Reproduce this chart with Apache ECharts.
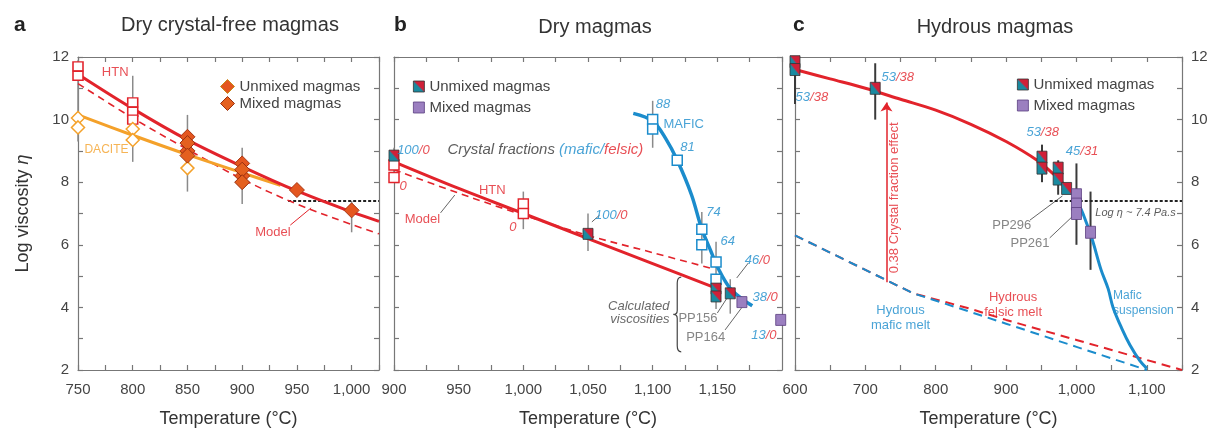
<!DOCTYPE html>
<html><head><meta charset="utf-8">
<script src="https://cdn.jsdelivr.net/npm/echarts@6/dist/echarts.min.js"></script>
<style>html,body{margin:0;padding:0;background:#fff}#c{width:1216px;height:434px}</style>
</head><body><div id="c"></div>
<script>
// ================= DATA =================
// Panel a: Dry crystal-free magmas
const aHtnT = [750, 800, 850, 900, 950, 1000, 1025];
const aHtnV = [11.45, 10.35, 9.35, 8.5, 7.72, 7.05, 6.75];
const aModelT = [750, 800, 850, 900, 950, 1000, 1025];
const aModelV = [11.15, 10.05, 9.05, 8.1, 7.3, 6.65, 6.35];
const aDaciteT = [750, 800, 850, 900, 935];
const aDaciteV = [10.15, 9.5, 8.88, 8.3, 7.9];
const aHtnPts = [[750, 11.7], [750, 11.4], [800, 10.55], [800, 10.25], [800, 10.0]];
const aDacitePts = [[750, 10.05], [750, 9.75], [800, 9.7], [800, 9.35], [850, 8.45]];
const aUnmixed = [[850, 9.45], [850, 9.0], [900, 8.6], [900, 8.2], [950, 7.75], [1000, 7.1]];
const aMixed = [[850, 9.25], [850, 8.85], [900, 8.4], [900, 8.0]];
const aErr = [[750, 9.3, 11.9], [800, 8.65, 11.4], [850, 7.7, 10.15], [900, 7.3, 9.1], [1000, 6.4, 7.4]];
const aThreshT = [942, 1025];
const aThreshV = [7.4, 7.4];

// Panel b: Dry magmas
const bHtnT = [900, 950, 1000, 1050, 1100, 1150];
const bHtnV = [8.65, 7.8, 7.0, 6.2, 5.4, 4.6];
const bModelT = [900, 950, 1000, 1050, 1100, 1145];
const bModelV = [8.4, 7.65, 6.95, 6.3, 5.75, 5.25];
const bMaficT = [1085, 1100, 1110, 1119, 1130, 1138, 1145, 1150, 1160, 1170, 1177];
const bMaficV = [10.2, 9.95, 9.4, 8.7, 7.6, 6.5, 5.8, 5.3, 4.6, 4.25, 4.05];
const bHtnPts = [[900, 8.55], [900, 8.15], [1000, 7.3], [1000, 7.0]];
const bMaficPts = [[1100, 10.0], [1100, 9.7], [1119, 8.7], [1138, 6.5], [1138, 6.0], [1149, 5.45], [1149, 4.9]];
const bUnmixed = [[900, 8.85], [1050, 6.35], [1149, 4.6], [1149, 4.35], [1160, 4.45]];
const bMixed = [[1169, 4.17], [1199, 3.6]];
const bErr = [[900, 8.0, 9.1], [1000, 6.5, 7.7], [1050, 5.8, 7.0], [1100, 9.1, 10.6], [1138, 5.4, 7.05], [1149, 3.95, 6.1], [1160, 3.8, 4.9]];

// Panel c: Hydrous magmas
const cHtnT = [600, 650, 700, 750, 800, 850, 900, 944, 970, 990];
const cHtnV = [11.6, 11.3, 11.0, 10.65, 10.3, 9.85, 9.3, 8.7, 8.2, 7.75];
const cSuspT = [990, 1000, 1010, 1022, 1035, 1045, 1052, 1065, 1076, 1090, 1100];
const cSuspV = [7.75, 7.45, 6.95, 6.2, 5.2, 4.6, 4.0, 3.3, 2.8, 2.3, 2.05];
const cFelsicT = [600, 650, 700, 768, 850, 900, 950, 1000, 1050, 1100, 1150];
const cFelsicV = [6.3, 5.75, 5.2, 4.45, 3.95, 3.6, 3.28, 2.96, 2.64, 2.32, 2.0];
const cMaficT = [600, 650, 700, 768, 850, 900, 950, 1000, 1050, 1100];
const cMaficV = [6.3, 5.75, 5.2, 4.45, 3.85, 3.48, 3.11, 2.74, 2.37, 2.0];
const cUnmixed = [[600, 11.85], [600, 11.6], [714, 11.0], [951, 8.8], [951, 8.45], [974, 8.45], [974, 8.1], [986, 7.8]];
const cMixed = [[1000, 7.6], [1000, 7.3], [1000, 7.0], [1020, 6.4]];
const cErr = [[600, 10.5, 12.0], [714, 10.0, 11.8], [951, 8.0, 9.2], [974, 7.6, 8.7], [1000, 6.0, 8.6], [1020, 5.2, 7.7]];
const cThreshT = [962, 1150];
const cThreshV = [7.4, 7.4];
const cArrow = [730, 4.8, 730, 10.55];

// Axis ranges / tick steps
const aRange = [750, 1025], bRange = [900, 1200], cRange = [600, 1150];
const yRange = [2, 12];

// Annotations [T, value, text, style]
const aNotes = [
  [784, 11.5, 'HTN', 'red'],
  [776, 9.03, 'DACITE', 'orange'],
  [928, 6.38, 'Model', 'red']
];
const bNotes = [
  [915, 9.03, '{b|100}{r|/0}', 'rich'],
  [1017, 9.03, '{G|Crystal fractions }{B|(mafic/}{R|felsic)}', 'rich'],
  [907, 7.88, '{r|0}', 'rich'],
  [976, 7.75, 'HTN', 'red'],
  [922, 6.8, 'Model', 'red'],
  [992, 6.55, '{r|0}', 'rich'],
  [1068, 6.95, '{b|100}{r|/0}', 'rich'],
  [1108, 10.5, '{b|88}', 'rich'],
  [1124, 9.83, 'MAFIC', 'blue'],
  [1127, 9.1, '{b|81}', 'rich'],
  [1147, 7.05, '{b|74}', 'rich'],
  [1158, 6.1, '{b|64}', 'rich'],
  [1181, 5.5, '{b|46}{r|/0}', 'rich'],
  [1187, 4.33, '{b|38}{r|/0}', 'rich'],
  [1186, 3.12, '{b|13}{r|/0}', 'rich'],
  [1113, 3.82, 'Calculated\nviscosities', 'gital'],
  [1135, 3.66, 'PP156', 'gray'],
  [1141, 3.05, 'PP164', 'gray']
];
const cNotes = [
  [624, 10.72, '{b|53}{r|/38}', 'rich'],
  [746, 11.36, '{b|53}{r|/38}', 'rich'],
  [952, 9.6, '{b|53}{r|/38}', 'rich'],
  [1008, 8.97, '{b|45}{r|/31}', 'rich'],
  [908, 6.63, 'PP296', 'gray'],
  [934, 6.06, 'PP261', 'gray'],
  [1084, 7.03, 'Log η ~ 7.4 Pa.s', 'small'],
  [742, 7.5, '0.38 Crystal fraction effect', 'redRot'],
  [750, 3.66, 'Hydrous\nmafic melt', 'blue'],
  [910, 4.08, 'Hydrous\nfelsic melt', 'red'],
  [1052, 4.14, 'Mafic\nsuspension', 'blueLeft']
];
const aLeaders = [[944, 6.63, 963, 7.18]];
const bLeaders = [[936, 7.02, 947, 7.59], [1059, 6.95, 1053, 6.73], [1174, 5.42, 1165, 4.94], [1150, 3.82, 1160, 4.46], [1156, 3.28, 1169, 4.0]];
const cLeaders = [[934, 6.79, 980, 7.56], [962, 6.22, 995, 6.92]];
const bBrace = [[1119, 4.97, 2.58]];

// ================= STYLE =================
const RED = '#e2232b', BLUE = '#1b8ccc', ORANGE = '#f4a12a', TXT = '#444';
const FONT = '"Liberation Sans", Arial, sans-serif';
const unmixedGrad = () => new echarts.graphic.LinearGradient(0, 1, 1, 0, [
  {offset: 0, color: '#1a8aa0'}, {offset: 0.45, color: '#1a8aa0'},
  {offset: 0.55, color: '#d02038'}, {offset: 1, color: '#d02038'}]);
const RICH = {
  b: {color: BLUE, fontStyle: 'italic', fontSize: 13, fontFamily: FONT},
  r: {color: RED, fontStyle: 'italic', fontSize: 13, fontFamily: FONT},
  G: {color: '#333', fontStyle: 'italic', fontSize: 15, fontFamily: FONT},
  B: {color: BLUE, fontStyle: 'italic', fontSize: 15, fontFamily: FONT},
  R: {color: RED, fontStyle: 'italic', fontSize: 15, fontFamily: FONT}
};
const STY = {
  red: {color: RED, fontSize: 13, lineHeight: 15},
  blue: {color: BLUE, fontSize: 13, lineHeight: 15},
  orange: {color: ORANGE, fontSize: 12},
  gray: {color: '#666', fontSize: 13},
  gital: {color: '#444', fontSize: 13, fontStyle: 'italic', align: 'right', lineHeight: 13},
  rich: {fontSize: 13, fontStyle: 'italic'},
  small: {color: '#333', fontSize: 11, fontStyle: 'italic'},
  redRot: {color: RED, fontSize: 13, rotate: 90},
  blueLeft: {color: BLUE, fontSize: 12, align: 'left', lineHeight: 15}
};

// ================= HELPERS =================
const pairs = (T, V) => T.map((t, i) => [t, V[i]]);
const ax = g => ({xAxisIndex: g * 2, yAxisIndex: g * 2});
function lineS(g, T, V, color, width, type, smooth) {
  return Object.assign({type: 'line', data: pairs(T, V), smooth: smooth ? 0.35 : false, symbol: 'none',
    lineStyle: {color, width, type}, silent: true, z: 3, animation: false}, ax(g));
}
function ptsS(g, name, pts, symbol, size, fill, border, bw) {
  return Object.assign({type: 'scatter', name, data: pts, symbol, symbolSize: size,
    itemStyle: {color: fill, borderColor: border, borderWidth: bw, opacity: 1}, z: 5, silent: true, animation: false}, ax(g));
}
function segS(g, segs, color, width) {
  return Object.assign({type: 'custom', data: segs, silent: true, z: 2, animation: false,
    encode: {x: [0, 2], y: [1, 3]},
    renderItem: (p, api) => {
      const a = api.coord([api.value(0), api.value(1)]), b = api.coord([api.value(2), api.value(3)]);
      return {type: 'line', shape: {x1: a[0], y1: a[1], x2: b[0], y2: b[1]}, style: {stroke: color, lineWidth: width}};
    }}, ax(g));
}
const errSegs = arr => arr.map(e => [e[0], e[1], e[0], e[2]]);
function notesS(g, notes) {
  return Object.assign({type: 'scatter', symbolSize: 0, silent: true, z: 8, animation: false,
    data: notes.map(n => ({value: [n[0], n[1]],
      label: Object.assign({show: true, position: 'inside', formatter: n[2], fontFamily: FONT, rich: RICH}, STY[n[3]])}))}, ax(g));
}
function braceS(g, arr) {
  return Object.assign({type: 'custom', data: arr, silent: true, z: 6, animation: false,
    encode: {x: 0, y: [1, 2]},
    renderItem: (p, api) => {
      const a = api.coord([api.value(0), api.value(1)]), b = api.coord([api.value(0), api.value(2)]);
      const x = a[0], y1 = a[1], y2 = b[1], ym = (y1 + y2) / 2;
      const d = `M${x + 4},${y1} Q${x},${y1} ${x},${y1 + 6} L${x},${ym - 4} Q${x},${ym} ${x - 4},${ym} Q${x},${ym} ${x},${ym + 4} L${x},${y2 - 6} Q${x},${y2} ${x + 4},${y2}`;
      return {type: 'path', shape: {pathData: d}, style: {stroke: '#444', lineWidth: 1.2, fill: 'none'}};
    }}, ax(g));
}
const fmt = v => v >= 1000 ? String(v).replace(/(\d)(\d{3})$/, '$1,$2') : String(v);
function xAx(g, range, step, labelStep, pos, labels) {
  return {type: 'value', gridIndex: g, min: range[0], max: range[1], interval: step, position: pos,
    axisLine: {onZero: false, lineStyle: {color: '#777', width: 1.2}},
    axisTick: {inside: true, length: 5, lineStyle: {color: '#777', width: 1.2}},
    splitLine: {show: false},
    axisLabel: {show: labels, margin: 12, fontSize: 15, color: TXT, fontFamily: FONT, showMaxLabel: g !== 1,
      formatter: v => (v % labelStep === 0 ? fmt(v) : '')},
    name: labels ? 'Temperature (°C)' : '', nameLocation: 'middle', nameGap: 40,
    nameTextStyle: {fontSize: 18, color: '#333', fontFamily: FONT}};
}
function yAx(g, pos, labels, name) {
  return {type: 'value', gridIndex: g, min: yRange[0], max: yRange[1], interval: 1, position: pos,
    axisLine: {onZero: false, lineStyle: {color: '#777', width: 1.2}},
    axisTick: {inside: true, length: 5, lineStyle: {color: '#777', width: 1.2}},
    splitLine: {show: false},
    axisLabel: {show: labels, margin: 9, fontSize: 15, color: TXT, fontFamily: FONT,
      formatter: v => (v % 2 === 0 ? String(v) : '')},
    name: name ? '{a|Log viscosity }{b|η}' : '', nameLocation: 'middle', nameGap: 46,
    nameTextStyle: {rich: {a: {fontSize: 18, color: '#333', fontFamily: FONT}, b: {fontSize: 18, color: '#333', fontStyle: 'italic', fontFamily: FONT}}}};
}
function legendFor(left, top, size, gap, icon, uStyle, mStyle) {
  return {left, top, orient: 'vertical', itemWidth: size, itemHeight: size, itemGap: gap, selectedMode: false,
    textStyle: {fontSize: 15, color: TXT, fontFamily: FONT},
    data: [{name: 'Unmixed magmas', icon, itemStyle: uStyle}, {name: 'Mixed magmas', icon, itemStyle: mStyle}]};
}

// ================= CHART =================
const chart = echarts.init(document.getElementById('c'), null, {renderer: 'canvas'});
const titleStyle = {fontSize: 20, fontWeight: 'normal', color: '#333', fontFamily: FONT};
const letterStyle = {fontSize: 21, fontWeight: 'bold', color: '#222', fontFamily: FONT};

const option = {
  backgroundColor: '#fff',
  animation: false,
  title: [
    {text: 'a', left: 9, top: 10, textStyle: letterStyle},
    {text: 'Dry crystal-free magmas', left: 225, top: 10, textAlign: 'center', textStyle: titleStyle},
    {text: 'b', left: 389, top: 10, textStyle: letterStyle},
    {text: 'Dry magmas', left: 590, top: 12, textAlign: 'center', textStyle: titleStyle},
    {text: 'c', left: 788, top: 10, textStyle: letterStyle},
    {text: 'Hydrous magmas', left: 990, top: 12, textAlign: 'center', textStyle: titleStyle}
  ],
  legend: [
    legendFor(215, 74, 14, 2, 'diamond', {color: '#e4561f', borderColor: '#c88a18', borderWidth: 1}, {color: '#e4601f', borderColor: '#9a3010', borderWidth: 1}),
    legendFor(408, 74, 11, 6, 'rect', {color: unmixedGrad(), borderColor: '#333', borderWidth: 0.8}, {color: '#9b7fc0', borderColor: '#5b3f80', borderWidth: 0.8}),
    legendFor(1012, 72, 11, 6, 'rect', {color: unmixedGrad(), borderColor: '#333', borderWidth: 0.8}, {color: '#9b7fc0', borderColor: '#5b3f80', borderWidth: 0.8})
  ],
  grid: [
    {left: 78, top: 57, width: 301, height: 313},
    {left: 394, top: 57, width: 388, height: 313},
    {left: 795, top: 57, width: 387, height: 313}
  ],
  xAxis: [
    xAx(0, aRange, 25, 50, 'bottom', true), xAx(0, aRange, 25, 50, 'top', false),
    xAx(1, bRange, 25, 50, 'bottom', true), xAx(1, bRange, 25, 50, 'top', false),
    xAx(2, cRange, 50, 100, 'bottom', true), xAx(2, cRange, 50, 100, 'top', false)
  ],
  yAxis: [
    yAx(0, 'left', true, true), yAx(0, 'right', false, false),
    yAx(1, 'left', false, false), yAx(1, 'right', false, false),
    yAx(2, 'left', false, false), yAx(2, 'right', true, false)
  ],
  series: [
    // ---- panel a ----
    segS(0, errSegs(aErr), '#8a8a8a', 1.5),
    segS(0, aLeaders, RED, 1),
    lineS(0, aThreshT, aThreshV, '#222', 1.8, [3, 2]),
    lineS(0, aModelT, aModelV, RED, 1.6, [7, 5], true),
    lineS(0, aDaciteT, aDaciteV, ORANGE, 3, 'solid', true),
    lineS(0, aHtnT, aHtnV, RED, 3, 'solid', true),
    ptsS(0, 'HTN', aHtnPts, 'rect', [10, 9], '#fff', RED, 1.5),
    ptsS(0, 'Dacite', aDacitePts, 'diamond', 13, '#fff', ORANGE, 1.5),
    ptsS(0, 'Unmixed magmas', aUnmixed, 'diamond', 15, '#e4561f', '#a83612', 1),
    ptsS(0, 'Mixed magmas', aMixed, 'diamond', 15, '#e4601f', '#9a3010', 1),
    notesS(0, aNotes),
    // ---- panel b ----
    segS(1, errSegs(bErr), '#8a8a8a', 1.5),
    segS(1, bLeaders, '#666', 1),
    braceS(1, bBrace),
    lineS(1, bModelT, bModelV, RED, 1.6, [7, 5], true),
    lineS(1, bHtnT, bHtnV, RED, 3, 'solid', true),
    lineS(1, bMaficT, bMaficV, BLUE, 3.5, 'solid', true),
    ptsS(1, 'HTN b', bHtnPts, 'rect', [10, 10], '#fff', RED, 1.5),
    ptsS(1, 'Mafic b', bMaficPts, 'rect', [10, 10], '#fff', BLUE, 1.5),
    ptsS(1, 'Unmixed magmas', bUnmixed, 'rect', [10, 11], unmixedGrad(), '#333', 0.8),
    ptsS(1, 'Mixed magmas', bMixed, 'rect', [10, 11], '#9b7fc0', '#5b3f80', 0.8),
    notesS(1, bNotes),
    // ---- panel c ----
    segS(2, errSegs(cErr), '#3a3a3a', 2),
    segS(2, cLeaders, '#666', 1),
    lineS(2, cThreshT, cThreshV, '#222', 1.8, [3, 2]),
    lineS(2, cFelsicT, cFelsicV, RED, 2, [9, 6]),
    lineS(2, cMaficT, cMaficV, BLUE, 2, [9, 6]),
    Object.assign(lineS(2, cHtnT, cHtnV, RED, 3, 'solid', true), {
      markLine: {silent: true, symbol: ['none', 'arrow'], symbolSize: 9, animation: false,
        lineStyle: {color: RED, width: 1.5, type: 'solid'}, label: {show: false},
        data: [[{coord: [cArrow[0], cArrow[1]]}, {coord: [cArrow[2], cArrow[3]]}]]}
    }),
    lineS(2, cSuspT, cSuspV, BLUE, 3, 'solid', true),
    ptsS(2, 'Unmixed magmas', cUnmixed, 'rect', [10, 12], unmixedGrad(), '#333', 0.8),
    ptsS(2, 'Mixed magmas', cMixed, 'rect', [10, 12], '#9b7fc0', '#5b3f80', 0.8),
    notesS(2, cNotes)
  ]
};
chart.setOption(option);
</script>
</body></html>
